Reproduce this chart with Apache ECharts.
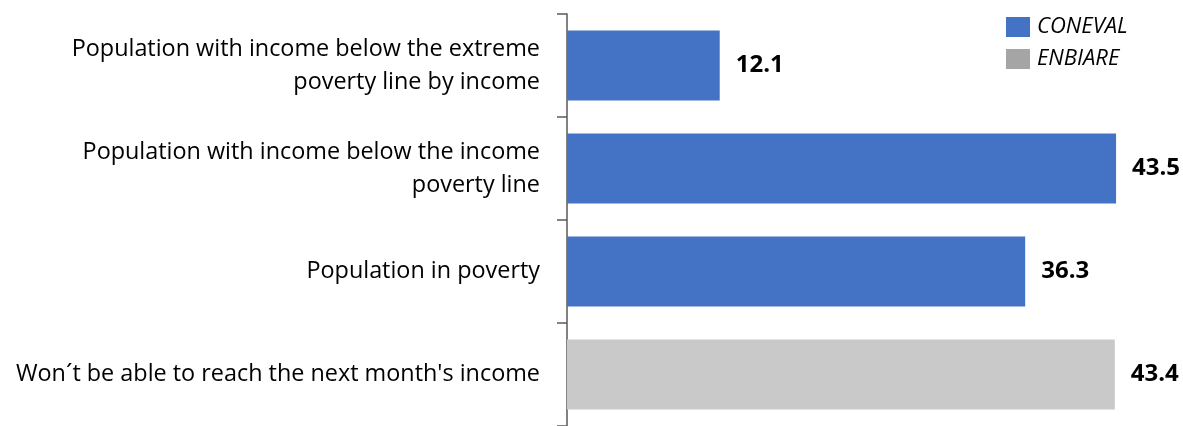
<!DOCTYPE html>
<html>
<head>
<meta charset="utf-8">
<script src="https://cdn.jsdelivr.net/npm/echarts@6/dist/echarts.min.js"></script>
<style>
  html, body { margin: 0; padding: 0; background: #fff; }
  #chart { width: 1183px; height: 426px; }
</style>
</head>
<body>
<div id="chart"></div>
<script>
var categories = [
	'Population with income below the extreme\npoverty line by income',
	'Population with income below the income\npoverty line',
	'Population in poverty',
	'Won\u00b4t be able to reach the next month\'s income'
];
var conevalValues = [12.1, 43.5, 36.3, null];
var enbiareValues = [null, null, null, 43.4];

var chart = echarts.init(document.getElementById('chart'));

var valueLabel = {
	show: true,
	position: 'right',
	distance: 16,
	fontFamily: 'Open Sans',
	fontSize: 24,
	fontWeight: 'bold',
	color: '#000'
};

var option = {
	animation: false,
	grid: { left: 567, right: 48, top: 14, bottom: -3 },
	legend: {
		orient: 'vertical',
		left: 1001,
		top: 11,
		itemWidth: 24,
		itemHeight: 20,
		itemGap: 10,
		icon: 'rect',
		textStyle: { fontFamily: 'Open Sans', fontSize: 22, fontStyle: 'italic', color: '#000', padding: [2, 0, 0, 2] },
		data: [
			{ name: 'CONEVAL' },
			{ name: 'ENBIARE', itemStyle: { color: '#a5a5a5' } }
		]
	},
	xAxis: {
		type: 'value',
		min: 0,
		max: 45,
		show: false
	},
	yAxis: {
		type: 'category',
		inverse: true,
		data: categories,
		axisLine: { show: true, lineStyle: { color: '#595959', width: 1.5 } },
		axisTick: { show: true, length: 10, lineStyle: { color: '#595959', width: 1.5 } },
		axisLabel: {
			margin: 27,
			fontFamily: 'Open Sans',
			fontSize: 23.4,
			lineHeight: 33,
			color: '#000',
			align: 'right',
			padding: [4, 0, 0, 0]
		}
	},
	series: [
		{
			name: 'CONEVAL',
			type: 'bar',
			data: conevalValues,
			barWidth: 70,
			barGap: '-100%',
			itemStyle: { color: '#4472c4' },
			label: valueLabel
		},
		{
			name: 'ENBIARE',
			type: 'bar',
			data: enbiareValues,
			barWidth: 70,
			itemStyle: { color: '#c9c9c9' },
			label: valueLabel
		}
	]
};

chart.setOption(option);
</script>
</body>
</html>
